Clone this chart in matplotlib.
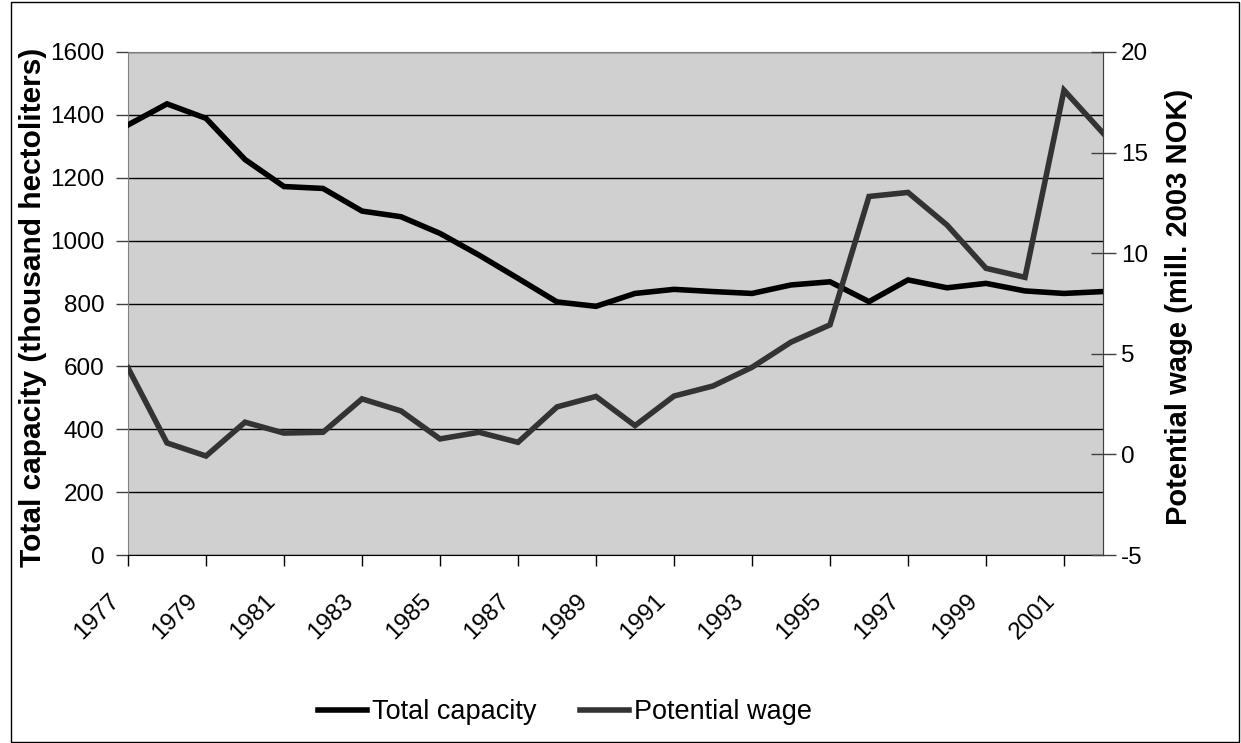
import matplotlib
matplotlib.use('Agg')
import matplotlib.pyplot as plt
import matplotlib.transforms as mtransforms
from matplotlib.patches import Rectangle
from matplotlib import rcParams

rcParams.update({
    'font.family': ['Liberation Sans', 'DejaVu Sans'],
    'axes.unicode_minus': False,
})

# 数据
years = list(range(1977, 2003))
capacity = [1368, 1435, 1389, 1258, 1172, 1166, 1094, 1076, 1023, 954,
            880, 805, 791, 832, 845, 838, 832, 859, 869, 806,
            875, 850, 864, 840, 832, 838]
wage = [4.3, 0.57, -0.08, 1.6, 1.06, 1.1, 2.76, 2.16, 0.77, 1.1,
        0.6, 2.36, 2.88, 1.43, 2.9, 3.4, 4.33, 5.58, 6.44, 12.82,
        13.02, 11.4, 9.25, 8.8, 18.1, 15.97]
xticks = list(range(1977, 2002, 2))
left_ticks = list(range(0, 1601, 200))
right_ticks = [-5, 0, 5, 10, 15, 20]

W, H = 1241, 743
fig = plt.figure(figsize=(W/100, H/100), dpi=100)
ax = fig.add_axes([128/W, 1-555/H, 975/W, 503/H])
ax.set_facecolor('#D0D0D0')

ax.plot(years, capacity, color='black', lw=4, solid_joinstyle='miter',
        label='Total capacity', zorder=3)
ax.set_xlim(1977, 2002)
ax.set_ylim(0, 1600)
ax.set_yticks(left_ticks)
ax.yaxis.grid(True, color='black', lw=1)
ax.set_axisbelow(True)
ax.set_xticks(xticks)
ax.tick_params(axis='x', length=8, width=1, pad=17, labelsize=17.5, color='black')
ax.tick_params(axis='y', length=9, width=1, pad=8, labelsize=17.5, color='#404040')
ax.set_xticklabels([str(y) for y in xticks], rotation=45, ha='right',
                   va='top', rotation_mode='anchor')
# 标签整体左移
offset = mtransforms.ScaledTranslation(-20/100, 0, fig.dpi_scale_trans)
for lb in ax.get_xticklabels():
    lb.set_transform(lb.get_transform() + offset)
for s in ['left', 'top', 'right']:
    ax.spines[s].set_color('#808080')
ax.spines['bottom'].set_color('black')

ax2 = ax.twinx()
ax2.plot(years, wage, color='#333333', lw=4, solid_joinstyle='miter',
         label='Potential wage', zorder=4)
ax2.set_ylim(-5, 20)
ax2.set_yticks(right_ticks)
ax2.tick_params(axis='y', direction='inout', length=18, width=1, pad=4,
                labelsize=17.5, color='#404040')
for s in ['left', 'top', 'bottom']:
    ax2.spines[s].set_visible(False)
ax2.spines['right'].set_color('#404040')

fig.text(33/W, 1-307/H, 'Total capacity (thousand hectoliters)', rotation=90,
         ha='center', va='center', fontsize=21.5, fontweight='bold')
fig.text(1179/W, 1-307/H, 'Potential wage (mill. 2003 NOK)', rotation=90,
         ha='center', va='center', fontsize=21, fontweight='bold')

h1, l1 = ax.get_legend_handles_labels()
h2, l2 = ax2.get_legend_handles_labels()
fig.legend(h1+h2, l1+l2, loc='center', bbox_to_anchor=(565/W, 1-712/H),
           ncol=2, frameon=False, fontsize=19.5, handlelength=1.8,
           handletextpad=0.2, columnspacing=1.6)

fig.add_artist(Rectangle((11/W, 1/H), (1239-11)/W, (741-1)/H,
                         transform=fig.transFigure, fill=False,
                         edgecolor='black', lw=1))

fig.savefig('out.png', dpi=100)
